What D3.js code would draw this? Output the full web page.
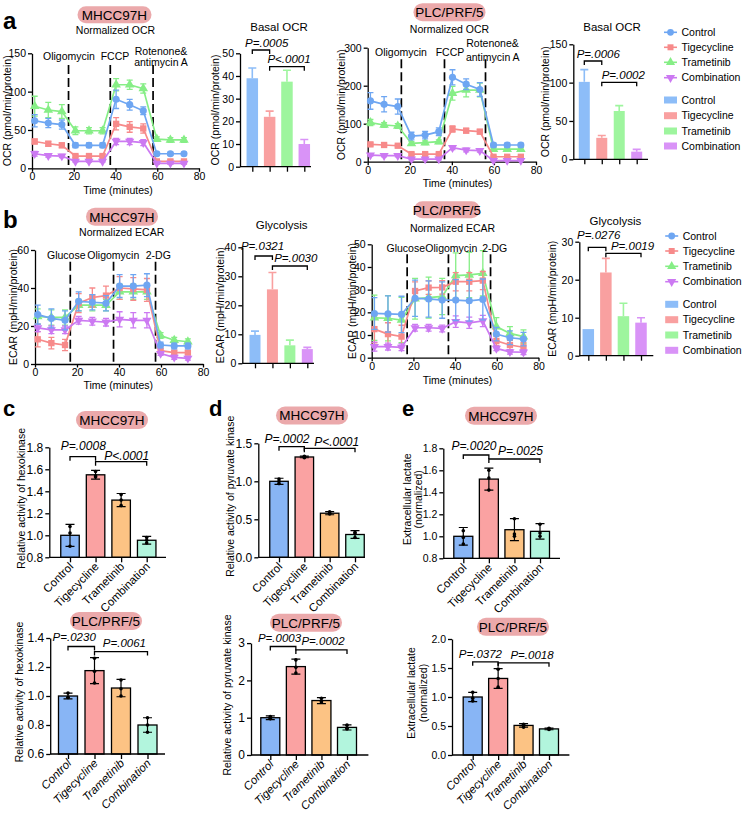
<!DOCTYPE html>
<html><head><meta charset="utf-8">
<script src="https://cdn.jsdelivr.net/npm/d3@7"></script>
<style>body{margin:0;background:#fff}</style>
</head><body><svg id="chart" width="744" height="813"></svg>
<script>
// ---------------- DATA ----------------
const groups = ["Control","Tigecycline","Trametinib","Combination"];
const times = [1.3,7.8,14.3,20.8,27.3,33.8,40.3,46.8,53.3,59.8,66.3,72.8];
const timeTicks = [0,20,40,60,80];

// a: MHCC97H normalized OCR (rows: Control, Tigecycline, Trametinib, Combination)
const ocrM_mean = [[62,59,57,30,30,30,90,83,75,19,19,19],[35,32,30,16,16,16,58,54,52,9,9,9],[81,76,74,49,49,49,109,109,104,38,37,37],[19,16.5,16,9,9,9,35,35,33.5,6.5,6.5,6.5]];
const ocrM_err  = [[8,6,6,3,3,3,12,7,5,2,2,2],[3,3,3,2,2,2,8,7,6,2,2,2],[13,10,9,5,4,4,8,6,6,3,3,3],[3,2,2,1,1,1,4,4,4,1,1,1]];
const ocrM_yticks = [0,50,100,150];
// a: PLC/PRF/5 normalized OCR
const ocrP_mean = [[160,151,145,67.5,70,79,222,204,190,44,44,44],[45.6,44,42,20,20,20,86,81.6,79,13,13,13],[103,96.5,94,48,50,52.6,180,188.6,188.6,33,33,33],[17.5,16,16,7,7,7,37,30.7,29,3,3,3]];
const ocrP_err  = [[22,20,20,10,10,10,20,14,18,5,5,5],[4,3,3,3,3,3,8,6,6,2,2,2],[8,6,6,5,5,5,18,18,18,4,4,4],[3,3,3,2,2,2,5,5,4,1,1,1]];
const ocrP_yticks = [0,100,200,300];
// b: MHCC97H normalized ECAR
const ecarM_mean = [[26,24,23,33,32.5,32,41,41,41.5,10,9.5,9.5],[13,11,10,32,35,36,40,39.5,39,7,6,6],[25,24.5,24.5,31,31,31,38,38,38,15,12.5,11.7],[19,18,18,23,22.5,22,23.5,23,23,5.5,3.5,3]];
const ecarM_err  = [[5,5,5,5,4,4,6,6,6,1.5,1.5,1.5],[4,3,3,5,5,5,6,6,6,1,1,1],[4,4,4,3,3,3,4,4,4,1.5,1.5,1.5],[2,2,2,2,2,2,4,4,4,1,1,1]];
const ecarM_yticks = [0,20,40,60];
// b: PLC/PRF/5 normalized ECAR
const ecarP_mean = [[19.5,19.3,19.1,26.2,25.9,25.4,25.4,25.1,25.7,10.4,8.8,8.2],[12.6,10.4,9.3,29.4,30.9,31,33.5,33.5,34,7.4,5.6,4.6],[17.6,17.4,16.6,26,26.5,27,36.2,36.5,37.2,13.7,10.7,9.3],[4.9,4.9,4.6,13.2,13.2,12.9,15.9,15.4,16.2,4.1,2.6,2.4]];
const ecarP_err  = [[7,8,8,8,8,8,9,9,9,3,3,3],[6,5,5,4,3,3,4,4,4,2,2,2],[10,10,10,9,9,8,10,10,10,4,3,3],[2,1.5,1.5,1.5,1.5,1.5,2.5,2.5,2.5,1,1,1]];
const ecarP_yticks = [0,10,20,30,40,50];

// basal OCR / glycolysis bars
const basalM_mean = [39,22,37.5,10];  const basalM_err = [4.5,2.5,5,2];  const basalM_yticks=[0,10,20,30,40,50];
const basalP_mean = [101,28,63,10];   const basalP_err = [16,3,7,3];     const basalP_yticks=[0,50,100,150];
const glycM_mean = [9.8,25.5,6.2,4.9]; const glycM_err = [1.3,5.8,1.8,0.6]; const glycM_yticks=[0,10,20,30,40];
const glycP_mean = [7.0,21.9,10.4,8.7]; const glycP_err = [0,3.7,3.4,1.3]; const glycP_yticks=[0,10,20,30];

// c, d, e (MHCC97H top, PLC/PRF/5 bottom)
const hkM_mean = [1.0,1.55,1.32,0.955]; const hkM_sd = [0.1,0.04,0.06,0.035];
const hkM_pts = [[1.08,1.02,0.90],[1.58,1.54,1.53],[1.37,1.32,1.27],[0.98,0.93,0.955]];
const hkM_yticks = [0.8,1.0,1.2,1.4,1.6,1.8];
const pkM_mean = [1.0,1.32,0.58,0.30]; const pkM_sd = [0.04,0.01,0.02,0.05];
const pkM_pts = [[1.03,0.97,1.0],[1.33,1.32,1.31],[0.60,0.58,0.57],[0.33,0.26,0.31]];
const pkM_yticks = [0.0,0.5,1.0,1.5];
const lacM_mean = [1.0,1.52,1.06,1.045]; const lacM_sd = [0.08,0.1,0.1,0.07];
const lacM_pts = [[1.05,0.93,0.99],[1.60,1.53,1.42],[1.16,1.0,1.02],[1.11,1.0,1.03]];
const lacM_yticks = [0.8,1.0,1.2,1.4,1.6,1.8];

const hkP_mean = [1.0,1.175,1.055,0.80]; const hkP_sd = [0.02,0.09,0.06,0.05];
const hkP_pts = [[1.02,0.99,0.99],[1.26,1.17,1.09],[1.11,1.05,1.0],[0.85,0.80,0.75]];
const hkP_yticks = [0.6,0.8,1.0,1.2,1.4];
const pkP_mean = [1.0,2.37,1.46,0.74]; const pkP_sd = [0.05,0.2,0.08,0.07];
const pkP_pts = [[1.03,0.98,0.97],[2.55,2.35,2.2],[1.52,1.45,1.42],[0.80,0.72,0.70]];
const pkP_yticks = [0,1,2,3];
const lacP_mean = [1.0,1.32,0.51,0.45]; const lacP_sd = [0.08,0.17,0.03,0.015];
const lacP_pts = [[1.08,0.98,0.93],[1.48,1.32,1.17],[0.53,0.51,0.48],[0.46,0.45,0.44]];
const lacP_yticks = [0.0,0.5,1.0,1.5,2.0];

// ---------------- DRAWING ----------------
const svg = d3.select("#chart");
const FONT = '"Liberation Sans", Arial, Helvetica, sans-serif';
const lineCol = ["#6ea6f2","#f78a8a","#86ee86","#cc79f2"];
const barCol  = ["#8dbdf8","#f9a0a0","#9ef59e","#d993f7"];
const boxCol  = ["#88b5f5","#faa2a2","#fcc384","#b2f5dd"];
const pillCol = "#eba9ab";
const shapes = [d3.symbolCircle,d3.symbolSquare,d3.symbolTriangle,d3.symbolTriangle];

function T(x,y,s,o={}){
  const t = svg.append("text").attr("x",x).attr("y",y).text(s)
    .attr("font-family",FONT).attr("font-size",o.fs||11).attr("fill","#000")
    .attr("text-anchor",o.anchor||"middle");
  if(o.italic) t.attr("font-style","italic");
  if(o.bold) t.attr("font-weight","bold");
  if(o.dy) t.attr("dy",o.dy);
  if(o.rot!=null) t.attr("transform",`rotate(${o.rot},${x},${y})`);
  return t;
}
function pill(cx,cy,w,h,s,fs){
  svg.append("rect").attr("x",cx-w/2).attr("y",cy-h/2).attr("width",w).attr("height",h)
    .attr("rx",h/2).attr("fill",pillCol);
  T(cx,cy,s,{fs:fs||13.5,dy:"0.36em"});
}
function styleAxis(g,fs){
  g.attr("font-family",FONT).attr("font-size",fs);
  g.select(".domain").attr("stroke","#000").attr("stroke-width",1.3);
  g.selectAll(".tick line").attr("stroke","#000").attr("stroke-width",1.3);
  g.selectAll(".tick text").attr("fill","#000");
}
function marker(g,i,x,y,col,size){
  g.append("path").attr("d",d3.symbol().type(shapes[i]).size(size||40)())
   .attr("transform",`translate(${x},${y})${i===3?" rotate(180)":""}`).attr("fill",col);
}
function bracket(x1,x2,y,drop){
  svg.append("path").attr("d",`M${x1},${y+drop}V${y}H${x2}V${y+drop}`)
    .attr("fill","none").attr("stroke","#000").attr("stroke-width",1.3);
}

function lineChart(o){
  const g = svg.append("g");
  const x = d3.scaleLinear().domain([0,80]).range([o.x0,o.x1]);
  const y = d3.scaleLinear().domain([0,o.ymax]).range([o.y0,o.y1]);
  styleAxis(g.append("g").attr("transform",`translate(${o.x0},0)`)
    .call(d3.axisLeft(y).tickValues(o.yticks).tickSize(4).tickPadding(2).tickSizeOuter(0)),10.5);
  styleAxis(g.append("g").attr("transform",`translate(0,${o.y0})`)
    .call(d3.axisBottom(x).tickValues(timeTicks).tickSize(3.5).tickPadding(1).tickSizeOuter(0)),10.5);
  o.inj.forEach(t=>g.append("line").attr("x1",x(t)).attr("x2",x(t)).attr("y1",o.dashTop).attr("y2",o.y0)
    .attr("stroke","#000").attr("stroke-width",1.7).attr("stroke-dasharray","9,4"));
  o.labels.forEach(([s,lx,ly])=>T(lx,ly,s,{fs:10.5}));
  T(o.tx,o.ty,"Time (minutes)",{fs:10.5});
  T(o.ytx,(o.y0+o.y1)/2,o.ytitle,{fs:10.5,rot:-90,dy:"0.35em"});
  const line = d3.line().x((d,k)=>x(times[k])).y(d=>y(d));
  [2,1,3,0].forEach(i=>{
    const m=o.means[i], e=o.errs[i], c=lineCol[i];
    g.append("path").attr("d",line(m)).attr("fill","none").attr("stroke",c).attr("stroke-width",1.7);
    m.forEach((v,k)=>{
      const xx=x(times[k]), ya=y(v+e[k]), yb=y(Math.max(0,v-e[k]));
      g.append("path").attr("d",`M${xx},${ya}V${yb}M${xx-3},${ya}H${xx+3}M${xx-3},${yb}H${xx+3}`)
        .attr("stroke",c).attr("stroke-width",1.3).attr("fill","none");
      marker(g,i,xx,y(v),c,i===3?36:40);
    });
  });
}

function barChart(o){
  const g = svg.append("g");
  const x = d3.scalePoint().domain(groups).range([o.c0,o.c3]);
  const y = d3.scaleLinear().domain([0,o.ymax]).range([o.y0,o.y1]);
  groups.forEach((gr,i)=>{
    const cx=x(gr);
    g.append("rect").attr("x",cx-o.bw/2).attr("y",y(o.means[i])).attr("width",o.bw)
      .attr("height",o.y0-y(o.means[i])).attr("fill",barCol[i]);
    if(o.errs[i]>0){
      const ye=y(o.means[i]+o.errs[i]);
      g.append("path").attr("d",`M${cx},${y(o.means[i])}V${ye}M${cx-4},${ye}H${cx+4}`)
        .attr("stroke",barCol[i]).attr("stroke-width",1.6).attr("fill","none");
    }
  });
  styleAxis(g.append("g").attr("transform",`translate(${o.x0},0)`)
    .call(d3.axisLeft(y).tickValues(o.yticks).tickSize(4).tickPadding(2).tickSizeOuter(0)),10.5);
  const xa = g.append("g").attr("transform",`translate(0,${o.y0})`)
    .call(d3.axisBottom(x).tickSize(5).tickFormat("").tickSizeOuter(0));
  styleAxis(xa,11); xa.select(".domain").remove();
  g.append("line").attr("x1",o.x0).attr("x2",o.xEnd).attr("y1",o.y0).attr("y2",o.y0).attr("stroke","#000").attr("stroke-width",1.3);
  T(o.titleX,o.titleY,o.title,{fs:11.5});
  T(o.ytx,(o.y0+o.y1)/2,o.ytitle,{fs:10.5,rot:-90,dy:"0.35em"});
  o.brackets.forEach(([a,b,by,label,tx,ty])=>{
    bracket(x(groups[a]),x(groups[b]),by,4);
    T(tx,ty,label,{fs:11.5,italic:true});
  });
}

function boxChart(o){
  const g = svg.append("g");
  const x = d3.scalePoint().domain(groups).range([o.c0,o.c3]);
  const y = d3.scaleLinear().domain(o.dom).range([o.y0,o.y1]);
  groups.forEach((gr,i)=>{
    const cx=x(gr), m=o.means[i], s=o.sds[i];
    g.append("rect").attr("x",cx-o.bw/2).attr("y",y(m)).attr("width",o.bw)
      .attr("height",o.y0-y(m)).attr("fill",boxCol[i]).attr("stroke","#000").attr("stroke-width",1.3);
    const ya=y(m+s), yb=y(m-s);
    g.append("path").attr("d",`M${cx},${ya}V${yb}M${cx-4.5},${ya}H${cx+4.5}M${cx-4.5},${yb}H${cx+4.5}`)
      .attr("stroke","#000").attr("stroke-width",1.2).attr("fill","none");
    o.pts[i].forEach(p=>g.append("circle").attr("cx",cx).attr("cy",y(p)).attr("r",1.8).attr("fill","#000"));
    const lx=cx+4, ly=o.y0+10;
    T(lx,ly,gr,{fs:11.5,anchor:"end",rot:-45,italic:o.italic});
  });
  styleAxis(g.append("g").attr("transform",`translate(${o.x0},0)`)
    .call(d3.axisLeft(y).tickValues(o.yticks).tickFormat(d3.format(o.fmt)).tickSize(4).tickPadding(2).tickSizeOuter(0)),o.tfs||12);
  const xa = g.append("g").attr("transform",`translate(0,${o.y0})`)
    .call(d3.axisBottom(x).tickSize(5).tickFormat("").tickSizeOuter(0));
  styleAxis(xa,11); xa.select(".domain").remove();
  g.append("line").attr("x1",o.x0).attr("x2",o.xEnd).attr("y1",o.y0).attr("y2",o.y0).attr("stroke","#000").attr("stroke-width",1.3);
  o.ytitle.forEach(([s,tx])=>T(tx,(o.y0+o.y1)/2-4,s,{fs:10.5,rot:-90,dy:"0.35em"}));
  o.brackets.forEach(([a,b,by,label,tx,ty])=>{
    bracket(x(groups[a]),x(groups[b]),by,4);
    T(tx,ty,label,{fs:o.pfs||12,italic:true});
  });
  pill(o.pill[0],o.pill[1],o.pill[2],o.pill[3],o.pill[4],13.5);
}

function legend(xm,rows){
  rows.forEach((ry,k)=>{
    const i=k%4;
    if(k<4){
      svg.append("line").attr("x1",xm-6.5).attr("x2",xm+6.5).attr("y1",ry).attr("y2",ry).attr("stroke",lineCol[i]).attr("stroke-width",1.6);
      marker(svg,i,xm,ry,lineCol[i],36);
    } else {
      svg.append("rect").attr("x",xm-6.5).attr("y",ry-3.5).attr("width",13).attr("height",7).attr("fill",barCol[i]);
    }
    T(xm+11,ry,groups[i],{fs:10.5,anchor:"start",dy:"0.36em"});
  });
}

// ---- panel letters ----
T(3,29,"a",{fs:24,bold:true,anchor:"start"});
T(3,228,"b",{fs:24,bold:true,anchor:"start"});
T(3,416,"c",{fs:22,bold:true,anchor:"start"});
T(209,416,"d",{fs:22,bold:true,anchor:"start"});
T(402,416,"e",{fs:22,bold:true,anchor:"start"});

// ---- row a ----
pill(114.5,14.7,74,17,"MHCC97H");
T(115.5,34,"Normalized OCR",{fs:10.5});
lineChart({x0:32,x1:199,y0:168.3,y1:53.3,ymax:150,yticks:ocrM_yticks,means:ocrM_mean,errs:ocrM_err,
  inj:[17.5,37.5,58],dashTop:65,
  labels:[["Oligomycin",69,60],["FCCP",115,60],["Rotenone&",161,54.5],["antimycin A",161,65.5]],
  tx:118,ty:193.5,ytx:7.5,ytitle:"OCR (pmol/min/protein)"});
barChart({x0:240,xEnd:311,y0:166.7,y1:53.3,ymax:50,yticks:basalM_yticks,c0:252.3,c3:304.3,bw:11.5,
  means:basalM_mean,errs:basalM_err,title:"Basal OCR",titleX:279,titleY:31,ytx:215,ytitle:"OCR (pmol/min/protein)",
  brackets:[[0,1,50,"P=.0005",266.7,46.5],[1,3,66.7,"P<.0001",289,63]]});

pill(449.5,12.2,72,18,"PLC/PRF/5");
T(449.5,32.5,"Normalized OCR",{fs:10.5});
lineChart({x0:367.7,x1:536,y0:161.7,y1:47.7,ymax:300,yticks:ocrP_yticks,means:ocrP_mean,errs:ocrP_err,
  inj:[16,36.5,56],dashTop:59.3,
  labels:[["Oligomycin",401,56],["FCCP",450,56],["Rotenone&",492.5,47],["antimycin A",492.8,61]],
  tx:457.5,ty:187,ytx:341,ytitle:"OCR (pmol/min/protein)"});
barChart({x0:573.3,xEnd:648,y0:159.3,y1:44.3,ymax:150,yticks:basalP_yticks,c0:584.3,c3:636.7,bw:11,
  means:basalP_mean,errs:basalP_err,title:"Basal OCR",titleX:612,titleY:30.5,ytx:545,ytitle:"OCR (pmol/min/protein)",
  brackets:[[0,1,61,"P=.0006",598.3,57.5],[1,3,82.3,"P=.0002",623.3,79]]});
legend(670.5,[32.3,47.3,62.3,77.7,100,115.7,131,146]);

// ---- row b ----
pill(122,216.7,72,18,"MHCC97H");
T(121.7,236,"Normalized ECAR",{fs:10.5});
lineChart({x0:35,x1:203,y0:364,y1:250,ymax:60,yticks:ecarM_yticks,means:ecarM_mean,errs:ecarM_err,
  inj:[16.8,37.4,57.4],dashTop:261.7,
  labels:[["Glucose",66.3,259],["Oligomycin",113.3,259],["2-DG",158.3,259]],
  tx:118.3,ty:389,ytx:13.5,ytitle:"ECAR (mpH/min/protein)"});
barChart({x0:242.3,xEnd:314,y0:363.3,y1:247.3,ymax:40,yticks:glycM_yticks,c0:255,c3:307.3,bw:11,
  means:glycM_mean,errs:glycM_err,title:"Glycolysis",titleX:281.7,titleY:228.5,ytx:220,ytitle:"ECAR (mpH/min/protein)",
  brackets:[[0,1,256,"P=.0321",262.5,250],[1,3,266,"P=.0030",295.8,262.3]]});

pill(447,209.7,66,17,"PLC/PRF/5");
T(452.5,232,"Normalized ECAR",{fs:10.5});
lineChart({x0:371.7,x1:538.5,y0:357.7,y1:244.3,ymax:50,yticks:ecarP_yticks,means:ecarP_mean,errs:ecarP_err,
  inj:[17,36.8,57],dashTop:254.3,
  labels:[["Glucose",405.8,251.7],["Oligomycin",451.3,251.7],["2-DG",494.7,251.7]],
  tx:457.5,ty:383.5,ytx:352,ytitle:"ECAR (mpH/min/protein)"});
barChart({x0:579.3,xEnd:653.3,y0:355.7,y1:241.7,ymax:30,yticks:glycP_yticks,c0:588.3,c3:641,bw:11.5,
  means:glycP_mean,errs:glycP_err,title:"Glycolysis",titleX:615.5,titleY:225,ytx:552.7,ytitle:"ECAR (mpH/min/protein)",
  brackets:[[0,1,247.3,"P=.0276",598.7,239],[1,3,253.3,"P=.0019",632.5,250]]});
legend(671.7,[236,251,266.3,281.7,304.3,319.7,335,350.3]);

// ---- rows c, d, e (top: MHCC97H) ----
boxChart({x0:49.3,xEnd:166,y0:557.3,y1:447.3,dom:[0.8,1.8],yticks:hkM_yticks,fmt:".1f",c0:70,c3:146.7,bw:18.5,
  means:hkM_mean,sds:hkM_sd,pts:hkM_pts,ytitle:[["Relative activity of hexokinase",21.7]],
  brackets:[[0,1,456.7,"P=.0008",83.3,450],[1,3,461.7,"P<.0001",126.7,459.5]],
  pill:[112,420,72,18,"MHCC97H"]});
boxChart({x0:258.3,xEnd:365,y0:557.3,y1:443.3,dom:[0,1.5],yticks:pkM_yticks,fmt:".1f",c0:279,c3:355,bw:18.5,
  means:pkM_mean,sds:pkM_sd,pts:pkM_pts,ytitle:[["Relative activity of pyruvate kinase",230]],
  brackets:[[0,1,446.7,"P=.0002",287,443],[1,3,448.3,"P<.0001",336.7,446]],
  pill:[312,415.5,72,18,"MHCC97H"]});
boxChart({x0:443.3,xEnd:560,y0:558.3,y1:448.3,dom:[0.8,1.8],yticks:lacM_yticks,fmt:".1f",c0:463.3,c3:540,bw:19,tfs:10.5,
  means:lacM_mean,sds:lacM_sd,pts:lacM_pts,ytitle:[["Extracellular lactate",407.3],["(normalized)",418.5]],
  brackets:[[0,1,455,"P=.0020",474,450],[1,3,459,"P=.0025",520.5,455]],
  pill:[501,415.7,72,18,"MHCC97H"]});

// ---- bottom: PLC/PRF/5 ----
boxChart({x0:50.2,xEnd:165,y0:754,y1:638,dom:[0.6,1.4],yticks:hkP_yticks,fmt:".1f",c0:68,c3:147.5,bw:19,italic:true,pfs:11.5,
  means:hkP_mean,sds:hkP_sd,pts:hkP_pts,ytitle:[["Relative activity of hexokinase",19]],
  brackets:[[0,1,646.5,"P=.0230",74.2,641.4],[1,3,651.6,"P=.0061",124.4,647.2]],
  pill:[106,621,72,18,"PLC/PRF/5"]});
boxChart({x0:251,xEnd:368.4,y0:755,y1:643.1,dom:[0,3],yticks:pkP_yticks,fmt:"d",c0:270.3,c3:347,bw:19,italic:true,pfs:11.5,
  means:pkP_mean,sds:pkP_sd,pts:pkP_pts,ytitle:[["Relative activity of pyruvate kinase",227]],
  brackets:[[0,1,646.5,"P=.0003",279.5,642.4],[1,3,649.9,"P=.0002",323,645.3]],
  pill:[306,622.7,72,18,"PLC/PRF/5"]});
boxChart({x0:452,xEnd:569.4,y0:755,y1:639,dom:[0,2],yticks:lacP_yticks,fmt:".1f",c0:472.7,c3:549,bw:19,italic:true,pfs:11.5,tfs:10.5,
  means:lacP_mean,sds:lacP_sd,pts:lacP_pts,ytitle:[["Extracellular lactate",411.5],["(normalized)",423.5]],
  brackets:[[0,1,661.8,"P=.0372",480.4,658.4],[1,3,662.8,"P=.0018",532,659]],
  pill:[513,626.8,72,18,"PLC/PRF/5"]});
</script>
</body></html>
